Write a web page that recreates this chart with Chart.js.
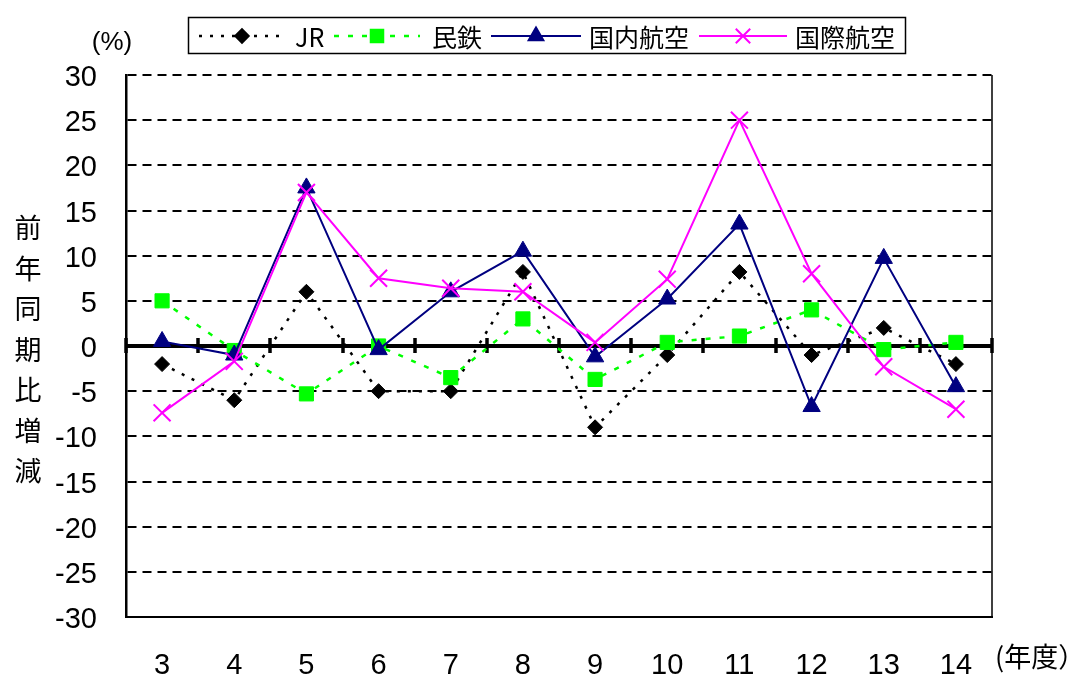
<!DOCTYPE html>
<html lang="ja">
<head>
  <meta charset="UTF-8">
  <title>前年同期比増減</title>
  <script src="https://cdn.jsdelivr.net/npm/chart.js"></script>
  <style>
    body { margin: 0; background: #fff; }
    #wrap { width: 1074px; height: 677px; }
  </style>
</head>
<body>
  <div id="wrap"><canvas id="chart" width="1074" height="677"></canvas></div>

  <script>
    // 年度
    const years = ['3', '4', '5', '6', '7', '8', '9', '10', '11', '12', '13', '14'];
    // series values (%)
    const jr       = [-2, -6, 6, -5, -5, 8.2, -9, -1, 8.2, -1, 2, -2];
    const mintetsu = [5, -0.5, -5.3, 0, -3.5, 3, -3.7, 0.4, 1.1, 4, -0.4, 0.4];
    const domestic = [0.5, -1, 17.5, -0.4, 6, 10.5, -1.2, 5.2, 13.5, -6.7, 9.7, -4.5];
    const intl     = [-7.4, -1.7, 17, 7.5, 6.4, 6, 0.4, 7.4, 25, 8, -2.3, -7];
    const yTicks   = [30, 25, 20, 15, 10, 5, 0, -5, -10, -15, -20, -25, -30];

    const FONT = "'Liberation Sans', Arial, 'Noto Sans CJK JP', sans-serif";
    const CJK = "'Noto Sans CJK JP', 'Liberation Sans', sans-serif";

    const series = [
      { label: 'JR', data: jr, color: '#000000', dash: [3, 8], width: 2.5, style: 'rectRot', radius: 7.5 },
      { label: '民鉄', data: mintetsu, color: '#00ff00', dash: [5, 9], width: 2.5, style: 'rect', radius: 10 },
      { label: '国内航空', data: domestic, color: '#000080', dash: [], width: 2, style: 'triangle', radius: 10 },
      { label: '国際航空', data: intl, color: '#ff00ff', dash: [], width: 2, style: 'crossRot', radius: 12 }
    ];

    // draws the zero line with category ticks, right border, titles and legend
    const extras = {
      id: 'extras',
      beforeDatasetsDraw(chart) {
        const { ctx, chartArea: a, scales: { x, y } } = chart;
        const y0 = y.getPixelForValue(0);
        ctx.save();
        ctx.strokeStyle = '#000';
        ctx.lineWidth = 4;
        ctx.beginPath();
        ctx.moveTo(a.left, y0);
        ctx.lineTo(a.right, y0);
        ctx.stroke();
        const step = (a.right - a.left) / years.length;
        ctx.lineWidth = 3.5;
        for (let i = 0; i <= years.length; i++) {
          const px = Math.round(a.left + i * step);
          ctx.beginPath();
          ctx.moveTo(px, y0 - 8);
          ctx.lineTo(px, y0 + 7);
          ctx.stroke();
        }
        ctx.lineWidth = 1.5;
        ctx.beginPath();
        ctx.moveTo(a.right, a.top);
        ctx.lineTo(a.right, a.bottom);
        ctx.stroke();
        ctx.restore();
      },
      afterDraw(chart) {
        const { ctx } = chart;
        ctx.save();
        ctx.fillStyle = '#000';
        ctx.textBaseline = 'middle';

        ctx.font = '26px ' + FONT;
        ctx.textAlign = 'center';
        ctx.fillText('(%)', 112, 43);

        ctx.font = '27px ' + CJK;
        const title = '前年同期比増減';
        for (let i = 0; i < title.length; i++) {
          ctx.fillText(title[i], 28, 228 + i * 40.5);
        }
        ctx.textAlign = 'left';
        ctx.fillText('(年度）', 995, 657);

        // legend
        ctx.lineWidth = 1.5;
        ctx.strokeStyle = '#000';
        ctx.strokeRect(188.5, 17.5, 717, 36);
        const items = [
          { x0: 199, x1: 285, tx: 295 },
          { x0: 334, x1: 420, tx: 432 },
          { x0: 491, x1: 581, tx: 589 },
          { x0: 699, x1: 787, tx: 795 }
        ];
        const ly = 36;
        series.forEach((s, i) => {
          const it = items[i];
          ctx.strokeStyle = s.color;
          ctx.lineWidth = s.width;
          ctx.setLineDash(s.dash);
          ctx.beginPath();
          ctx.moveTo(it.x0, ly);
          ctx.lineTo(it.x1, ly);
          ctx.stroke();
          ctx.setLineDash([]);
          ctx.fillStyle = s.color;
          ctx.strokeStyle = s.color;
          Chart.helpers.drawPoint(ctx, {
            pointStyle: s.style, radius: s.radius * 0.85, borderWidth: s.style === 'crossRot' ? 2 : 1, rotation: 0
          }, (it.x0 + it.x1) / 2, ly);
          ctx.fillStyle = '#000';
          ctx.font = '25px ' + CJK;
          ctx.textAlign = 'left';
          ctx.fillText(s.label, it.tx, ly + 1);
        });
        ctx.restore();
      }
    };

    new Chart(document.getElementById('chart'), {
      type: 'line',
      data: {
        labels: years,
        datasets: series.map((s, i) => ({
          label: s.label,
          data: s.data,
          borderColor: s.color,
          backgroundColor: s.color,
          borderWidth: s.width,
          borderDash: s.dash,
          pointStyle: s.style,
          pointRadius: s.radius,
          pointBorderWidth: s.style === 'crossRot' ? 2 : 1,
          pointBackgroundColor: s.color,
          pointBorderColor: s.color,
          tension: 0,
          fill: false,
          order: series.length - i
        }))
      },
      options: {
        responsive: false,
        animation: false,
        events: [],
        layout: { padding: { top: 75, right: 82, bottom: 0, left: 0 } },
        plugins: { legend: { display: false }, tooltip: { enabled: false } },
        scales: {
          x: {
            offset: true,
            grid: { display: false, drawTicks: false },
            border: { display: true, color: '#000', width: 2 },
            ticks: { color: '#000', font: { family: FONT, size: 29 }, padding: 32, maxRotation: 0 },
            afterFit(scale) { scale.height = 60; }
          },
          y: {
            min: -30,
            max: 30,
            afterBuildTicks(scale) { scale.ticks = yTicks.map(v => ({ value: v })); },
            grid: {
              drawTicks: false,
              color: ctx => (ctx.tick && ctx.tick.value === 0) ? 'rgba(0,0,0,0)' : '#000',
              lineWidth: 2
            },
            border: { display: true, color: '#000', width: 2.5, dash: [9, 6] },
            ticks: { color: '#000', font: { family: FONT, size: 29 }, padding: 29, labelOffset: 3 },
            afterFit(scale) { scale.width = 126; }
          }
        }
      },
      plugins: [extras]
    });
  </script>
</body>
</html>
